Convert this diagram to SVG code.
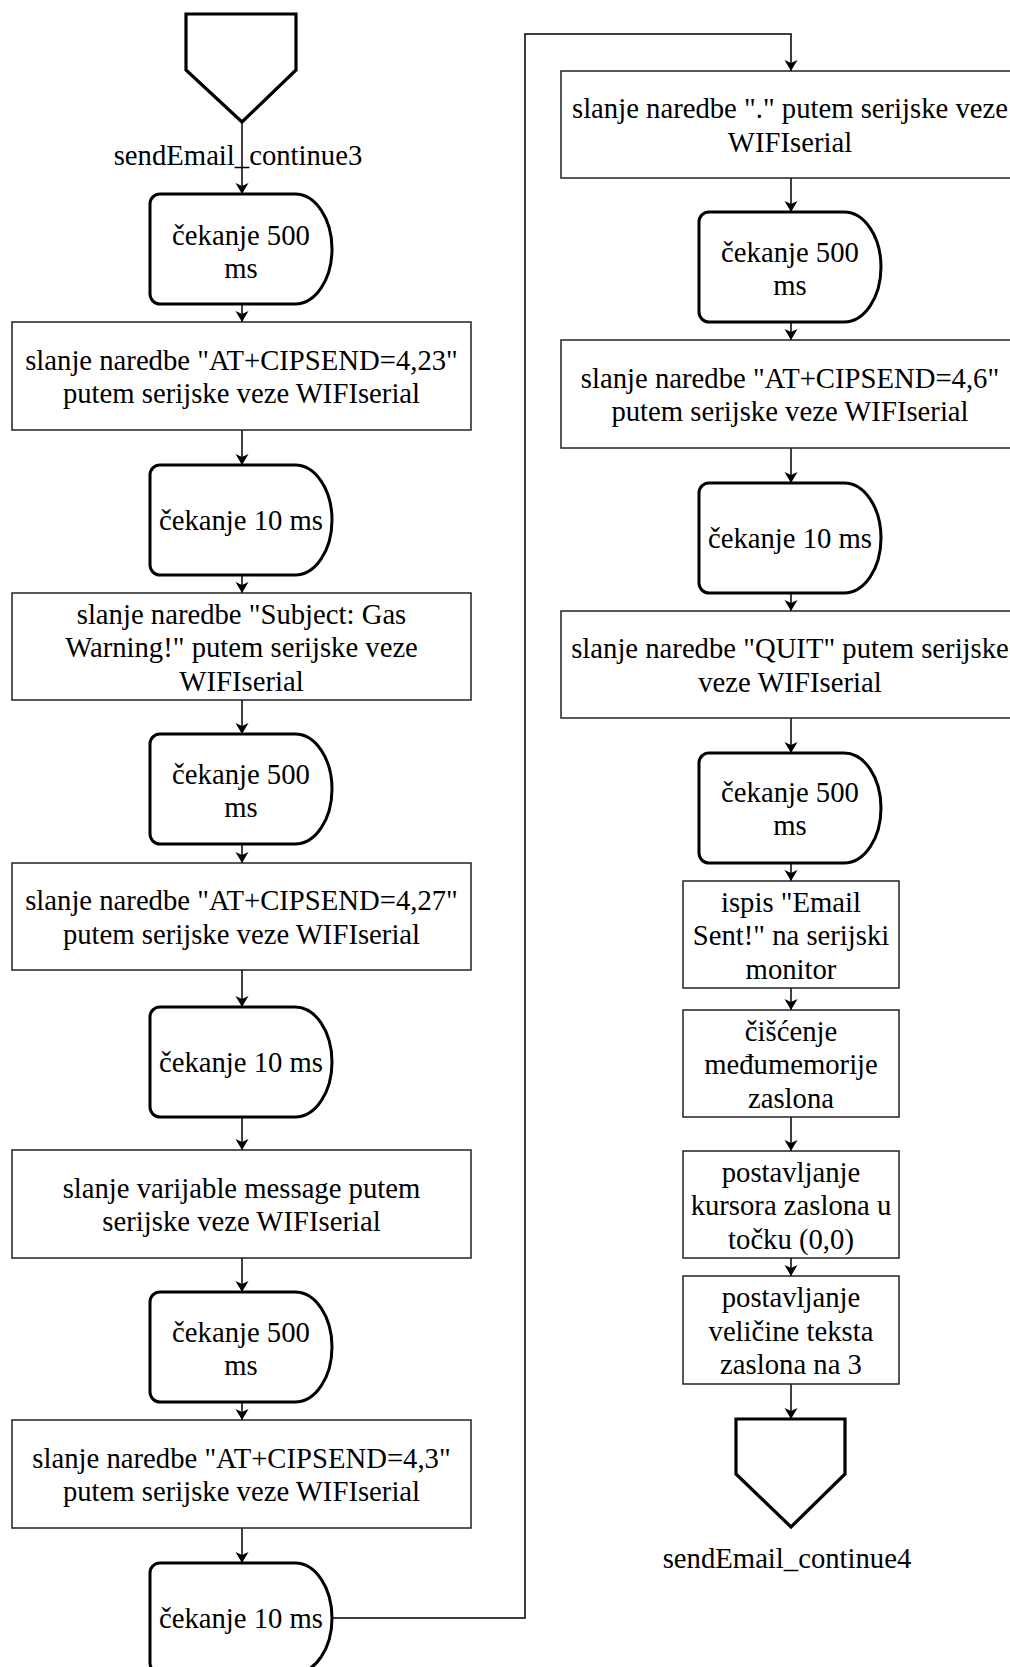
<svg xmlns="http://www.w3.org/2000/svg" width="1010" height="1667" viewBox="0 0 1010 1667">
<style>
.box{fill:#fff;stroke:#222;stroke-width:1.5}
.wait{fill:#fff;stroke:#000;stroke-width:3}
.term{fill:#fff;stroke:#000;stroke-width:3.2;stroke-linejoin:miter}
.conn{fill:none;stroke:#000;stroke-width:1.5}
text{font-family:"Liberation Serif","Times New Roman",serif;font-size:28.7px;text-anchor:middle;fill:#000}
</style>
<defs>
<marker id="arr" markerUnits="userSpaceOnUse" markerWidth="12" markerHeight="14" refX="11" refY="6.5" orient="auto">
<path d="M0,0 L11,6.5 L0,13 L3,6.5 Z" fill="#000"/>
</marker>
</defs>
<rect width="1010" height="1667" fill="#fff"/>
<g id="connectors">
<line class="conn" x1="242" y1="122" x2="242" y2="194" marker-end="url(#arr)"/>
<line class="conn" x1="242" y1="304" x2="242" y2="322" marker-end="url(#arr)"/>
<line class="conn" x1="242" y1="430" x2="242" y2="465" marker-end="url(#arr)"/>
<line class="conn" x1="242" y1="575" x2="242" y2="593" marker-end="url(#arr)"/>
<line class="conn" x1="242" y1="700" x2="242" y2="734" marker-end="url(#arr)"/>
<line class="conn" x1="242" y1="844" x2="242" y2="863" marker-end="url(#arr)"/>
<line class="conn" x1="242" y1="970" x2="242" y2="1007" marker-end="url(#arr)"/>
<line class="conn" x1="242" y1="1117" x2="242" y2="1150" marker-end="url(#arr)"/>
<line class="conn" x1="242" y1="1258" x2="242" y2="1292" marker-end="url(#arr)"/>
<line class="conn" x1="242" y1="1402" x2="242" y2="1420" marker-end="url(#arr)"/>
<line class="conn" x1="242" y1="1528" x2="242" y2="1563" marker-end="url(#arr)"/>
<polyline class="conn" points="332,1618 525,1618 525,34 791,34 791,71" marker-end="url(#arr)"/>
<line class="conn" x1="791" y1="178" x2="791" y2="212" marker-end="url(#arr)"/>
<line class="conn" x1="791" y1="322" x2="791" y2="340" marker-end="url(#arr)"/>
<line class="conn" x1="791" y1="448" x2="791" y2="483" marker-end="url(#arr)"/>
<line class="conn" x1="791" y1="593" x2="791" y2="611" marker-end="url(#arr)"/>
<line class="conn" x1="791" y1="718" x2="791" y2="753" marker-end="url(#arr)"/>
<line class="conn" x1="791" y1="863" x2="791" y2="881" marker-end="url(#arr)"/>
<line class="conn" x1="791" y1="988" x2="791" y2="1010" marker-end="url(#arr)"/>
<line class="conn" x1="791" y1="1117" x2="791" y2="1151" marker-end="url(#arr)"/>
<line class="conn" x1="791" y1="1258" x2="791" y2="1276" marker-end="url(#arr)"/>
<line class="conn" x1="791" y1="1384" x2="791" y2="1419" marker-end="url(#arr)"/>
</g>
<g id="n1">
<path class="term" d="M186,14 H296 V70 L242,122 L186,70 Z"/>
<text x="238" y="165">sendEmail_continue3</text>
</g>
<g id="n2">
<path class="wait" d="M160,194 H295 A37,55 0 0 1 295,304 H160 A10,10 0 0 1 150,294 V204 A10,10 0 0 1 160,194 Z"/>
<text x="241" y="244.5">čekanje 500</text>
<text x="241" y="278">ms</text>
</g>
<g id="n3">
<rect class="box" x="12" y="322" width="459" height="108"/>
<text x="241.5" y="369.75">slanje naredbe "AT+CIPSEND=4,23"</text>
<text x="241.5" y="403.25">putem serijske veze WIFIserial</text>
</g>
<g id="n4">
<path class="wait" d="M160,465 H295 A37,55 0 0 1 295,575 H160 A10,10 0 0 1 150,565 V475 A10,10 0 0 1 160,465 Z"/>
<text x="241" y="530">čekanje 10 ms</text>
</g>
<g id="n5">
<rect class="box" x="12" y="593" width="459" height="107"/>
<text x="241.5" y="623.5">slanje naredbe "Subject: Gas</text>
<text x="241.5" y="657">Warning!" putem serijske veze</text>
<text x="241.5" y="690.5">WIFIserial</text>
</g>
<g id="n6">
<path class="wait" d="M160,734 H295 A37,55 0 0 1 295,844 H160 A10,10 0 0 1 150,834 V744 A10,10 0 0 1 160,734 Z"/>
<text x="241" y="783.5">čekanje 500</text>
<text x="241" y="817">ms</text>
</g>
<g id="n7">
<rect class="box" x="12" y="863" width="459" height="107"/>
<text x="241.5" y="910">slanje naredbe "AT+CIPSEND=4,27"</text>
<text x="241.5" y="943.5">putem serijske veze WIFIserial</text>
</g>
<g id="n8">
<path class="wait" d="M160,1007 H295 A37,55 0 0 1 295,1117 H160 A10,10 0 0 1 150,1107 V1017 A10,10 0 0 1 160,1007 Z"/>
<text x="241" y="1072">čekanje 10 ms</text>
</g>
<g id="n9">
<rect class="box" x="12" y="1150" width="459" height="108"/>
<text x="241.5" y="1197.75">slanje varijable message putem</text>
<text x="241.5" y="1231.25">serijske veze WIFIserial</text>
</g>
<g id="n10">
<path class="wait" d="M160,1292 H295 A37,55 0 0 1 295,1402 H160 A10,10 0 0 1 150,1392 V1302 A10,10 0 0 1 160,1292 Z"/>
<text x="241" y="1341.75">čekanje 500</text>
<text x="241" y="1375.25">ms</text>
</g>
<g id="n11">
<rect class="box" x="12" y="1420" width="459" height="108"/>
<text x="241.5" y="1467.75">slanje naredbe "AT+CIPSEND=4,3"</text>
<text x="241.5" y="1501.25">putem serijske veze WIFIserial</text>
</g>
<g id="n12">
<path class="wait" d="M160,1563 H295 A37,55 0 0 1 295,1673 H160 A10,10 0 0 1 150,1663 V1573 A10,10 0 0 1 160,1563 Z"/>
<text x="241" y="1628">čekanje 10 ms</text>
</g>
<g id="n13">
<rect class="box" x="561" y="71" width="460" height="107"/>
<text x="790" y="118">slanje naredbe "." putem serijske veze</text>
<text x="790" y="151.5">WIFIserial</text>
</g>
<g id="n14">
<path class="wait" d="M709,212 H844 A37,55 0 0 1 844,322 H709 A10,10 0 0 1 699,312 V222 A10,10 0 0 1 709,212 Z"/>
<text x="790" y="261.75">čekanje 500</text>
<text x="790" y="295.25">ms</text>
</g>
<g id="n15">
<rect class="box" x="561" y="340" width="460" height="108"/>
<text x="790" y="387.75">slanje naredbe "AT+CIPSEND=4,6"</text>
<text x="790" y="421.25">putem serijske veze WIFIserial</text>
</g>
<g id="n16">
<path class="wait" d="M709,483 H844 A37,55 0 0 1 844,593 H709 A10,10 0 0 1 699,583 V493 A10,10 0 0 1 709,483 Z"/>
<text x="790" y="548">čekanje 10 ms</text>
</g>
<g id="n17">
<rect class="box" x="561" y="611" width="460" height="107"/>
<text x="790" y="658">slanje naredbe "QUIT" putem serijske</text>
<text x="790" y="691.5">veze WIFIserial</text>
</g>
<g id="n18">
<path class="wait" d="M709,753 H844 A37,55 0 0 1 844,863 H709 A10,10 0 0 1 699,853 V763 A10,10 0 0 1 709,753 Z"/>
<text x="790" y="801.5">čekanje 500</text>
<text x="790" y="835">ms</text>
</g>
<g id="n19">
<rect class="box" x="683" y="881" width="216" height="107"/>
<text x="791" y="911.5">ispis "Email</text>
<text x="791" y="945">Sent!" na serijski</text>
<text x="791" y="978.5">monitor</text>
</g>
<g id="n20">
<rect class="box" x="683" y="1010" width="216" height="107"/>
<text x="791" y="1040.5">čišćenje</text>
<text x="791" y="1074">međumemorije</text>
<text x="791" y="1107.5">zaslona</text>
</g>
<g id="n21">
<rect class="box" x="683" y="1151" width="216" height="107"/>
<text x="791" y="1181.5">postavljanje</text>
<text x="791" y="1215">kursora zaslona u</text>
<text x="791" y="1248.5">točku (0,0)</text>
</g>
<g id="n22">
<rect class="box" x="683" y="1276" width="216" height="108"/>
<text x="791" y="1307">postavljanje</text>
<text x="791" y="1340.5">veličine teksta</text>
<text x="791" y="1374">zaslona na 3</text>
</g>
<g id="n23">
<path class="term" d="M736,1419 H845 V1474 L791,1527 L736,1474 Z"/>
<text x="787" y="1568">sendEmail_continue4</text>
</g>
</svg>
